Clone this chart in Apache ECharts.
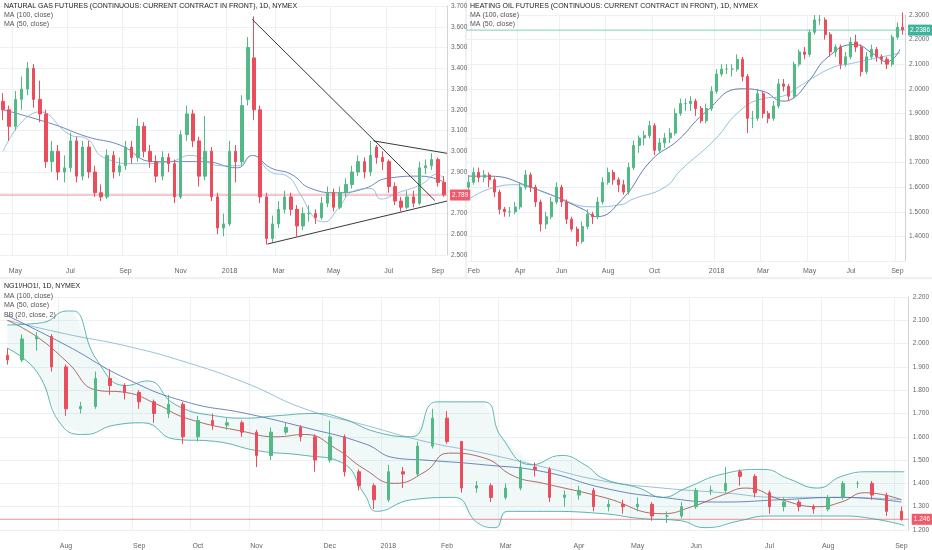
<!DOCTYPE html>
<html><head><meta charset="utf-8">
<script src="https://cdn.jsdelivr.net/npm/echarts@6/dist/echarts.min.js"></script>
<style>html,body{margin:0;padding:0;background:#fff}#c{width:932px;height:550px}</style>
</head><body><div id="c"></div>
<script>
// ---- Natural gas (top-left), weekly candles [open, close, low, high]
const ngCandles = [
[3.24,3.20,3.15,3.28],[3.20,3.12,3.05,3.22],[3.12,3.25,3.10,3.29],[3.25,3.30,3.20,3.36],[3.30,3.40,3.27,3.43],
[3.40,3.25,3.21,3.42],[3.25,3.18,3.14,3.34],[3.18,2.95,2.92,3.20],[2.95,3.00,2.90,3.05],[3.00,2.90,2.86,3.03],
[2.90,2.92,2.85,2.98],[2.92,3.05,2.90,3.09],[3.05,2.88,2.85,3.07],[2.88,3.02,2.86,3.05],[3.02,2.90,2.87,3.05],
[2.90,2.80,2.78,2.93],[2.80,2.78,2.76,2.84],[2.78,2.98,2.77,3.01],[2.98,2.90,2.87,3.00],[2.90,2.93,2.88,2.97],
[2.93,3.02,2.91,3.05],[3.02,2.97,2.94,3.05],[2.97,3.12,2.95,3.16],[3.12,3.00,2.97,3.14],[3.00,2.95,2.92,3.03],
[2.95,2.88,2.85,2.98],[2.88,2.97,2.86,3.00],[2.97,2.94,2.90,2.99],[2.94,2.78,2.75,2.96],[2.78,3.08,2.77,3.10],
[3.08,3.18,3.05,3.22],[3.18,3.05,3.02,3.20],[3.05,2.88,2.83,3.07],[2.88,3.00,2.86,3.17],[3.00,2.78,2.76,3.02],
[2.78,2.63,2.60,2.80],[2.63,2.65,2.59,2.70],[2.65,3.00,2.64,3.05],[3.00,2.95,2.85,3.03],[2.95,3.22,2.93,3.27],
[3.25,3.50,3.22,3.55],[3.45,3.20,3.15,3.65],[3.20,2.78,2.75,3.22],[2.78,2.58,2.55,2.80],[2.58,2.65,2.56,2.69],
[2.65,2.72,2.63,2.76],[2.72,2.78,2.70,2.81],[2.78,2.72,2.69,2.80],[2.72,2.64,2.59,2.74],[2.64,2.70,2.62,2.73],
[2.70,2.70,2.66,2.74],[2.70,2.68,2.65,2.72],[2.68,2.75,2.67,2.78],[2.75,2.80,2.73,2.83],[2.80,2.73,2.71,2.82],
[2.73,2.80,2.72,2.83],[2.80,2.84,2.78,2.87],[2.84,2.90,2.82,2.93],[2.90,2.95,2.88,2.98],[2.95,2.90,2.87,2.97],
[2.90,2.98,2.88,3.05],[3.02,2.97,2.94,3.03],[2.97,2.95,2.91,3.00],[2.95,2.83,2.80,2.96],[2.83,2.76,2.74,2.85],
[2.76,2.73,2.71,2.78],[2.73,2.78,2.72,2.81],[2.78,2.75,2.73,2.81],[2.75,2.92,2.74,2.95],[2.92,2.93,2.89,2.96],
[2.93,2.96,2.91,2.99],[2.96,2.85,2.83,2.97],[2.85,2.79,2.78,2.88]];
const ngMA100 = [[0,3.2],[8.2,3.13],[13.7,3.07],[19.1,3.03],[24.6,2.95],[32.8,2.95],[38.3,2.92],[40.7,2.98],[43.7,2.92],[47,2.89],[50.3,2.82],[54.6,2.8],[59,2.82],[62.8,2.87],[68.3,2.88],[72.1,2.85]];
const ngMA50 = [[0,3.0],[6,3.19],[10.9,3.08],[13.7,3.06],[16.4,2.97],[21.9,2.94],[27.3,2.95],[30.6,2.98],[35.5,2.93],[38.3,2.93],[40.7,2.98],[43.7,2.9],[46.4,2.88],[48.6,2.79],[50.8,2.68],[52.5,2.66],[54.6,2.72],[57.4,2.81],[60.1,2.82],[61.7,2.77],[64.5,2.8],[68.3,2.84],[71,2.89],[72.1,2.86]];
const ngTrend = [[[40.7,3.635],[70.5,2.763]],[[60.5,3.05],[72.5,2.99]],[[43.2,2.553],[72.5,2.76]]];
const ngLabels = {2:'May',11:'Jul',20:'Sep',29:'Nov',37:'2018',45:'Mar',54:'May',63:'Jul',71:'Sep'};
const ngLast = 2.789;

// ---- Heating oil (top-right)
const hoCandles = [
[1.60,1.62,1.59,1.65],[1.62,1.66,1.61,1.68],[1.66,1.64,1.62,1.68],[1.64,1.65,1.62,1.67],[1.65,1.63,1.60,1.66],
[1.63,1.58,1.56,1.64],[1.58,1.51,1.49,1.59],[1.51,1.50,1.48,1.52],[1.50,1.50,1.48,1.52],[1.50,1.52,1.49,1.54],
[1.52,1.60,1.51,1.62],[1.60,1.65,1.59,1.67],[1.65,1.60,1.58,1.66],[1.60,1.54,1.52,1.61],[1.54,1.45,1.42,1.55],
[1.45,1.48,1.43,1.50],[1.48,1.54,1.47,1.56],[1.54,1.60,1.53,1.62],[1.60,1.54,1.52,1.61],[1.54,1.47,1.45,1.55],
[1.47,1.43,1.42,1.48],[1.43,1.38,1.36,1.44],[1.38,1.44,1.37,1.46],[1.44,1.49,1.43,1.51],[1.49,1.48,1.45,1.50],
[1.48,1.54,1.47,1.56],[1.54,1.62,1.53,1.64],[1.62,1.66,1.61,1.68],[1.66,1.63,1.61,1.67],[1.63,1.61,1.58,1.64],
[1.61,1.58,1.57,1.63],[1.58,1.68,1.57,1.70],[1.68,1.77,1.67,1.79],[1.77,1.80,1.74,1.81],[1.80,1.81,1.77,1.83],
[1.81,1.85,1.80,1.87],[1.85,1.75,1.73,1.86],[1.75,1.78,1.74,1.80],[1.78,1.80,1.76,1.82],[1.80,1.82,1.78,1.84],
[1.82,1.90,1.81,1.92],[1.90,1.94,1.89,1.96],[1.94,1.94,1.91,1.96],[1.94,1.95,1.91,1.97],[1.95,1.92,1.89,1.96],
[1.92,1.87,1.86,1.93],[1.87,1.92,1.86,1.94],[1.92,1.99,1.91,2.01],[1.99,2.06,1.98,2.08],[2.06,2.08,2.05,2.10],
[2.08,2.08,2.06,2.10],[2.08,2.08,2.05,2.10],[2.08,2.12,2.07,2.14],[2.12,2.05,2.03,2.13],[2.05,1.88,1.82,2.06],
[1.88,1.88,1.84,1.91],[1.88,1.98,1.87,2.00],[1.98,1.90,1.88,1.99],[1.90,1.88,1.86,1.91],[1.88,1.93,1.87,1.95],
[1.93,2.02,1.92,2.04],[2.02,2.01,1.99,2.04],[2.01,1.97,1.95,2.02],[1.97,2.10,1.96,2.11],[2.10,2.15,2.09,2.16],
[2.15,2.14,2.12,2.17],[2.14,2.23,2.13,2.24],[2.23,2.28,2.22,2.30],[2.28,2.28,2.26,2.30],[2.28,2.22,2.20,2.29],
[2.22,2.15,2.13,2.23],[2.15,2.17,2.13,2.18],[2.17,2.10,2.08,2.18],[2.10,2.13,2.09,2.15],[2.13,2.19,2.12,2.21],
[2.19,2.17,2.15,2.22],[2.17,2.07,2.05,2.18],[2.07,2.13,2.06,2.15],[2.13,2.16,2.12,2.18],[2.16,2.13,2.11,2.17],
[2.13,2.12,2.10,2.14],[2.12,2.10,2.08,2.13],[2.10,2.21,2.09,2.22],[2.21,2.25,2.20,2.27],[2.25,2.24,2.22,2.31]];
const hoMA50 = [[0,1.645],[3.8,1.645],[12,1.6],[22.2,1.51],[24.7,1.48],[29.7,1.55],[35.4,1.71],[40.5,1.79],[45.6,1.9],[52.8,2.0],[57,1.99],[60.8,1.95],[62.7,1.96],[65.8,2.03],[69.6,2.13],[74.7,2.18],[78.5,2.14],[81,2.11],[83.5,2.16]];
const hoMA100 = [[0,1.55],[5.1,1.6],[9.5,1.61],[15.8,1.57],[24,1.52],[29.7,1.53],[31.6,1.55],[38,1.6],[41.1,1.67],[47.5,1.79],[52.5,1.91],[57,1.96],[60.8,1.97],[63.3,2.0],[67.1,2.05],[70.9,2.09],[73.4,2.1],[77.8,2.12],[83.5,2.145]];
const hoLabels = {1:'Feb',10:'Apr',18:'Jun',27:'Aug',36:'Oct',48:'2018',57:'Mar',66:'May',74:'Jul',83:'Sep'};
const hoLast = 2.2386;

// ---- Ratio NG1!/HO1! (bottom)
const rtCandles = [
[1.95,1.93,1.91,1.98],[1.93,2.02,1.92,2.04],[2.02,2.03,1.97,2.05],[2.03,1.90,1.88,2.04],[1.90,1.72,1.69,1.91],
[1.72,1.73,1.70,1.75],[1.73,1.85,1.72,1.88],[1.85,1.82,1.78,1.89],[1.82,1.79,1.76,1.83],[1.79,1.75,1.72,1.80],
[1.75,1.70,1.66,1.76],[1.70,1.74,1.68,1.78],[1.74,1.60,1.57,1.75],[1.60,1.67,1.58,1.69],[1.67,1.65,1.63,1.70],
[1.65,1.66,1.63,1.68],[1.66,1.62,1.60,1.67],[1.62,1.52,1.47,1.63],[1.52,1.62,1.50,1.64],[1.62,1.64,1.61,1.66],
[1.64,1.60,1.58,1.65],[1.60,1.50,1.45,1.61],[1.50,1.60,1.49,1.67],[1.60,1.45,1.43,1.61],[1.45,1.39,1.37,1.46],
[1.39,1.33,1.29,1.40],[1.33,1.45,1.32,1.48],[1.45,1.44,1.38,1.47],[1.44,1.56,1.43,1.58],[1.56,1.68,1.55,1.72],
[1.68,1.58,1.57,1.71],[1.58,1.38,1.36,1.54],[1.38,1.39,1.36,1.41],[1.39,1.34,1.32,1.40],[1.34,1.38,1.33,1.40],
[1.38,1.47,1.37,1.50],[1.47,1.46,1.43,1.49],[1.46,1.34,1.32,1.47],[1.34,1.35,1.30,1.37],[1.35,1.37,1.33,1.39],
[1.37,1.30,1.28,1.38],[1.30,1.31,1.28,1.33],[1.31,1.30,1.27,1.33],[1.30,1.31,1.28,1.34],[1.31,1.26,1.24,1.32],
[1.26,1.26,1.23,1.28],[1.26,1.30,1.25,1.32],[1.30,1.37,1.29,1.38],[1.37,1.37,1.35,1.39],[1.37,1.40,1.36,1.47],
[1.45,1.43,1.39,1.46],[1.43,1.36,1.34,1.44],[1.36,1.30,1.27,1.37],[1.30,1.32,1.28,1.34],[1.32,1.30,1.28,1.33],
[1.30,1.29,1.27,1.31],[1.29,1.34,1.28,1.35],[1.34,1.40,1.33,1.41],[1.40,1.40,1.38,1.41],[1.40,1.35,1.33,1.41],
[1.35,1.28,1.26,1.36],[1.28,1.245,1.24,1.30]];
const rtMA100 = [[0,2.1],[4.1,2.04],[8.1,1.99],[12.2,1.92],[16.3,1.83],[20.3,1.72],[24.4,1.65],[28.5,1.58],[32.5,1.53],[36.6,1.47],[40.7,1.41],[44.7,1.38],[48.8,1.36],[52.8,1.34],[56.9,1.34],[61,1.33]];
const rtMA50 = [[0,2.12],[4.1,1.99],[8.1,1.85],[12.2,1.75],[16.3,1.7],[20.3,1.64],[24.4,1.57],[26.4,1.51],[28.5,1.5],[32.5,1.48],[36.6,1.45],[40.7,1.38],[44.7,1.34],[48.8,1.32],[52.8,1.33],[56.9,1.34],[61,1.32]];
const rtBBmid = [[0,2.1],[2,2.03],[4.1,1.92],[6.1,1.8],[8.1,1.79],[10.2,1.74],[12.2,1.68],[16.3,1.62],[18.3,1.6],[20.3,1.61],[22.4,1.55],[24.4,1.46],[26.4,1.4],[28.5,1.45],[30.1,1.53],[32.5,1.51],[34.6,1.43],[36.6,1.4],[40.7,1.34],[44.7,1.27],[46.7,1.3],[48.8,1.35],[50.4,1.38],[52.8,1.33],[55.3,1.3],[56.9,1.32],[58.5,1.36],[61,1.33]];
const rtBBup = [[0,2.08],[2.4,2.09],[4.1,2.14],[4.5,2.14],[6.1,1.93],[8.1,1.82],[9.6,1.84],[11.4,1.74],[14.2,1.69],[16.3,1.68],[18.3,1.69],[21.1,1.7],[22.8,1.68],[25.2,1.62],[27.6,1.6],[29.3,1.75],[32.5,1.75],[33.7,1.6],[35.8,1.48],[37.8,1.52],[39.4,1.48],[40.7,1.42],[43.1,1.38],[44.7,1.34],[46.3,1.38],[48.8,1.44],[51.6,1.46],[53.3,1.42],[55.3,1.38],[56.9,1.43],[58.9,1.45],[61.2,1.45]];
const rtBBlo = [[0,1.98],[2,1.88],[3.7,1.65],[5.3,1.61],[7.3,1.65],[9.3,1.66],[11.4,1.59],[14.2,1.58],[17.1,1.54],[20.3,1.52],[22.8,1.49],[24.4,1.35],[25.2,1.28],[27.6,1.33],[30.5,1.34],[32.1,1.23],[33.3,1.21],[34.1,1.28],[36.6,1.28],[40.7,1.27],[43.1,1.25],[45.9,1.24],[47.6,1.21],[50,1.24],[51.8,1.26],[56.9,1.26],[58.9,1.25],[61.2,1.22]];
const rtLabels = {4:'Aug',9:'Sep',13:'Oct',17:'Nov',22:'Dec',26:'2018',30:'Feb',34:'Mar',39:'Apr',43:'May',47:'Jun',52:'Jul',56:'Aug',61:'Sep'};
const rtLast = 1.246;

const UP='#53b987', DN='#eb4d5c', GRID='#eef1f4', TXT='#666';
const grids=[], xAxes=[], yAxes=[], series=[];
function panel(p){
  const gi=grids.length;
  grids.push({left:p.left,right:p.right,top:p.top,height:p.height});
  const n=p.candles.length, cats=p.candles.map((_,i)=>String(i)), lab=p.labels;
  const show=(i)=>lab[i]!==undefined;
  const cx=xAxes.length;
  xAxes.push({type:'category',gridIndex:gi,data:cats,offset:p.xoff,boundaryGap:true,
    axisLine:{show:false,onZero:false},axisTick:{show:false},
    axisLabel:{interval:show,formatter:(v,i)=>lab[i]||'',fontSize:7,color:TXT,margin:6},
    splitLine:{show:true,interval:show,lineStyle:{color:GRID}}});
  const vx=xAxes.length;
  xAxes.push({type:'value',gridIndex:gi,min:-0.5,max:n-0.5,show:false,axisLine:{show:false,onZero:false},splitLine:{show:false}});
  const yi=yAxes.length;
  yAxes.push({type:'value',gridIndex:gi,position:'right',min:p.min,max:p.max,interval:0.1,scale:true,
    axisLine:{show:true,onZero:false,lineStyle:{color:'#d0d4d8'}},axisTick:{show:false},
    axisLabel:{fontSize:6.5,color:TXT,margin:4,formatter:v=>(p.hide&&p.hide.includes(+v.toFixed(2)))?'':v.toFixed(p.dec)},
    splitLine:{lineStyle:{color:GRID}}});
  if(p.band){
    series.push({type:'custom',xAxisIndex:vx,yAxisIndex:yi,data:[[0,1.5]],silent:true,z:1,
      renderItem:(params,api)=>{const pts=p.band[0].map(q=>api.coord(q)).concat(p.band[1].slice().reverse().map(q=>api.coord(q)));
        return {type:'polygon',shape:{points:pts},style:{fill:'rgba(58,170,165,0.08)'}};}});
  }
  (p.lines||[]).forEach(l=>series.push({type:'line',xAxisIndex:vx,yAxisIndex:yi,data:l.d,smooth:l.smooth!==false,showSymbol:false,symbol:'none',
    silent:true,z:l.z||3,lineStyle:{color:l.c,width:l.w||0.8}}));
  series.push({type:'candlestick',xAxisIndex:cx,yAxisIndex:yi,data:p.candles,barMaxWidth:3,clip:false,z:4,
    itemStyle:{color:UP,color0:DN,borderColor:UP,borderColor0:DN,borderWidth:1}});
  series.push({type:'line',xAxisIndex:vx,yAxisIndex:yi,data:[[-0.5,p.last],[n-0.5,p.last]],silent:true,z:2,
    showSymbol:false,symbol:'none',lineStyle:{color:p.lastColor,width:0.8,opacity:0.85},itemStyle:{color:p.lastColor},
    endLabel:{show:true,formatter:p.lastText,backgroundColor:p.lastColor,color:'#fff',fontSize:6.5,padding:[2,2],distance:3}});
}
panel({left:0,right:485,top:6,height:249,min:2.5,max:3.7,dec:3,xoff:7,candles:ngCandles,labels:ngLabels,
  last:ngLast,lastColor:'#f05a6a',lastText:'2.789',
  lines:[{d:ngMA100,c:'#4a6aa8'},{d:ngMA50,c:'#7fb2d6'}].concat(ngTrend.map(t=>({d:t,c:'#222',w:0.9,smooth:false,z:5})))});
panel({left:466,right:19,top:15,height:246,min:1.3,max:2.3,dec:4,xoff:1,hide:[1.3],candles:hoCandles,labels:hoLabels,
  last:hoLast,lastColor:'#3fb39a',lastText:'2.2386',
  lines:[{d:hoMA50,c:'#3d5a99'},{d:hoMA100,c:'#78aed0'}]});
panel({left:0,right:19,top:297,height:236,min:1.2,max:2.2,dec:3,xoff:7,candles:rtCandles,labels:rtLabels,
  last:rtLast,lastColor:'#f05a6a',lastText:'1.246',band:[rtBBup,rtBBlo],
  lines:[{d:rtMA100,c:'#7fb0c8'},{d:rtMA50,c:'#4a68a8'},{d:rtBBmid,c:'#a04848'},{d:rtBBup,c:'#3aa39f'},{d:rtBBlo,c:'#3aa39f'}]});

const tx=(x,y,t,bold)=>({type:'text',left:x,top:y,z:100,style:{text:t,fontSize:7,fill:bold?'#222':'#555',fontFamily:'Liberation Sans'}});
const chart=echarts.init(document.getElementById('c'));
chart.setOption({animation:false,grid:grids,xAxis:xAxes,yAxis:yAxes,series,
  graphic:[
    {type:'line',shape:{x1:0,y1:278,x2:932,y2:278},style:{stroke:'#dfe3e6',lineWidth:1}},
    {type:'line',shape:{x1:466,y1:0,x2:466,y2:278},style:{stroke:'#dfe3e6',lineWidth:1}},
    tx(4,3,'NATURAL GAS FUTURES (CONTINUOUS: CURRENT CONTRACT IN FRONT), 1D, NYMEX',true),
    tx(4,12,'MA (100, close)'),tx(4,21,'MA (50, close)'),
    tx(470,3,'HEATING OIL FUTURES (CONTINUOUS: CURRENT CONTRACT IN FRONT), 1D, NYMEX',true),
    tx(470,12,'MA (100, close)'),tx(470,21,'MA (50, close)'),
    tx(4,283,'NG1!/HO1!, 1D, NYMEX',true),tx(4,293,'MA (100, close)'),tx(4,302,'MA (50, close)'),tx(4,312,'BB (20, close, 2)')
  ]});
</script></body></html>
